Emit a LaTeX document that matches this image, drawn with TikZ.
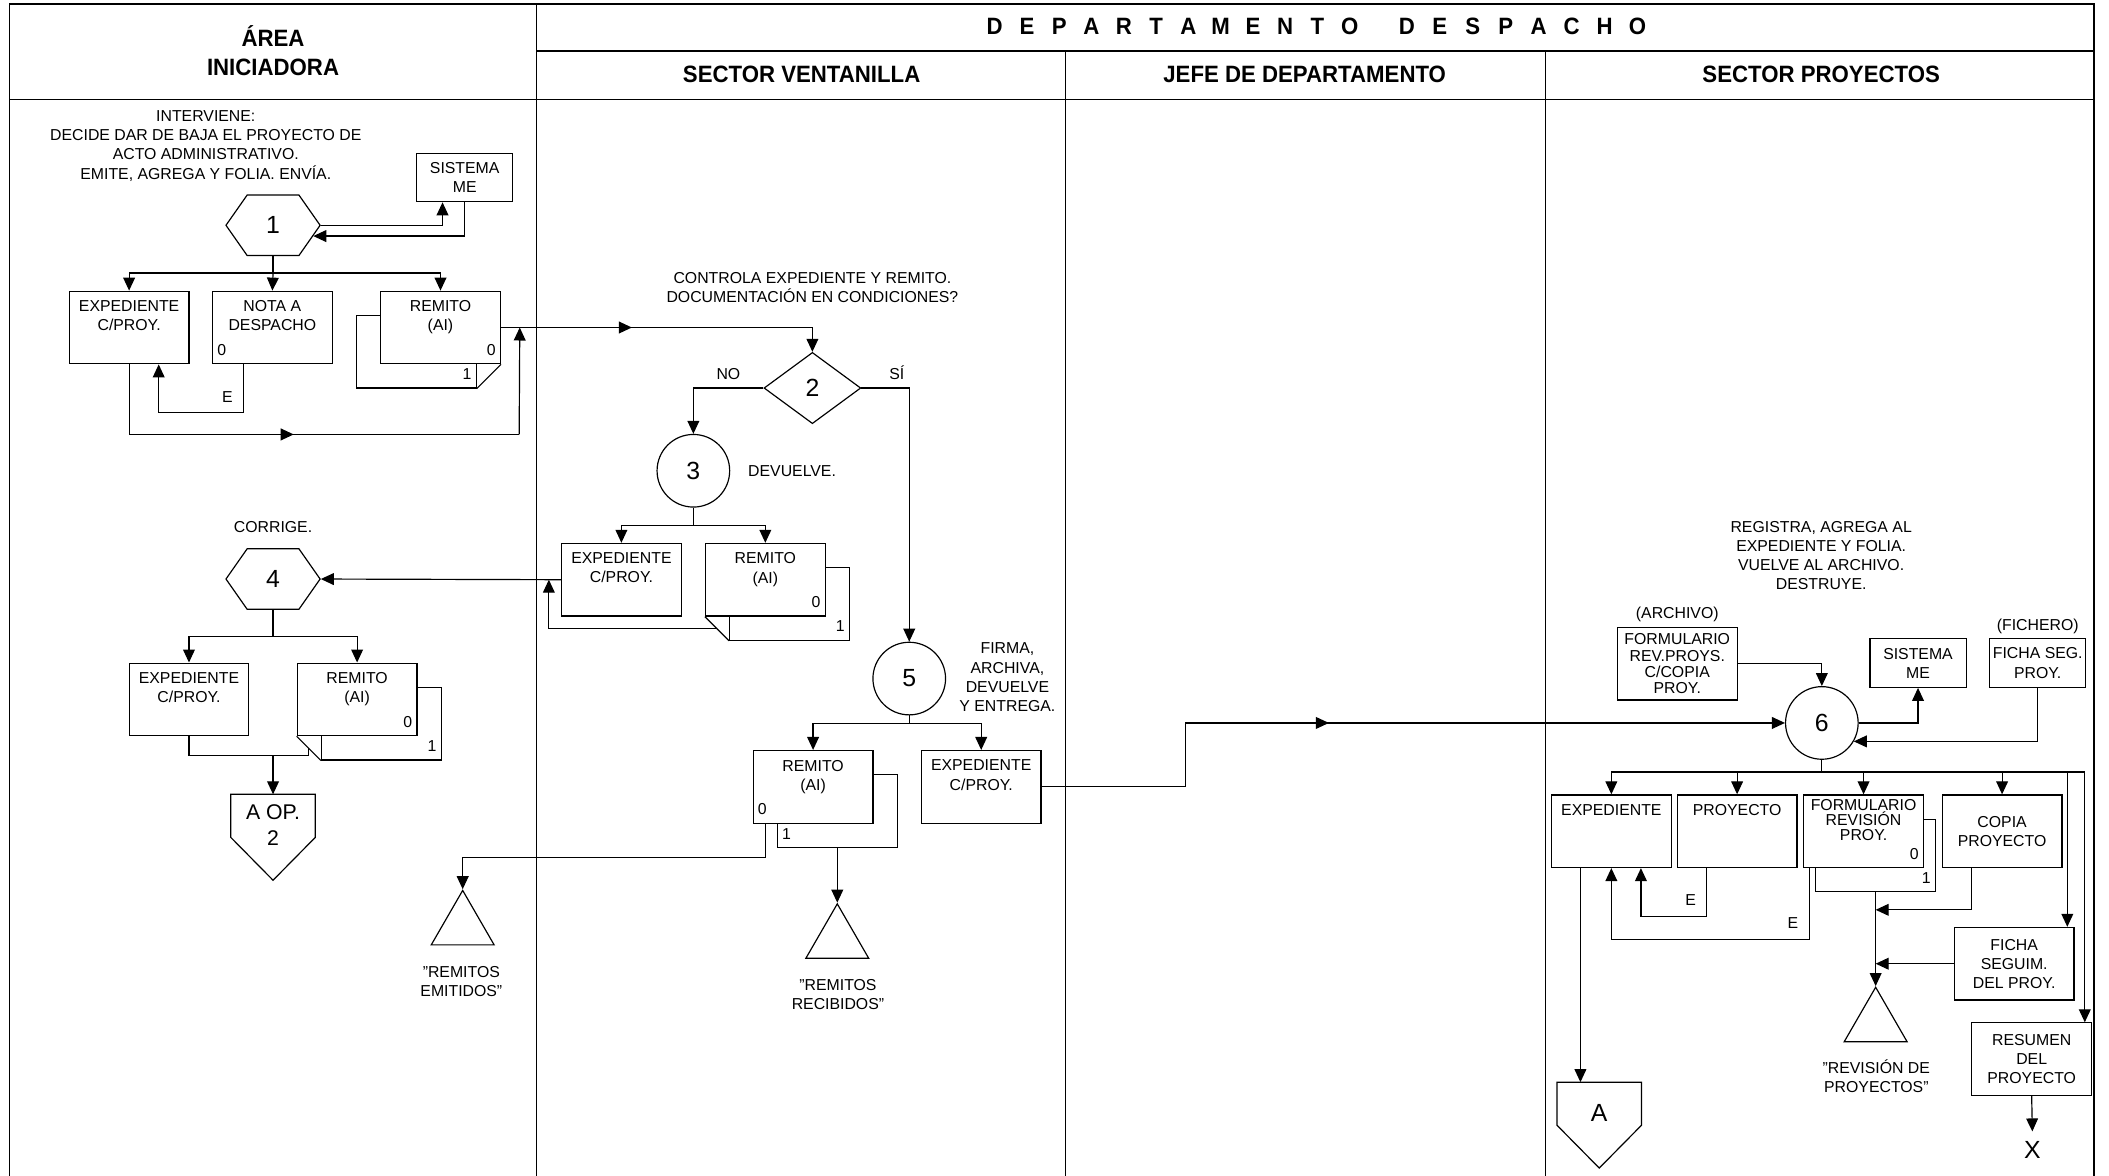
\documentclass[tikz,border=0pt]{standalone}
\usepackage{fontspec}
\setmainfont{Liberation Sans}
\newfontfamily\titfont[FakeStretch=0.94]{Liberation Sans}
\usetikzlibrary{arrows.meta,calc,shapes.geometric,shapes.symbols,decorations.markings}

\tikzset{
  caja/.style={draw, fill=white, minimum width=1.78cm, minimum height=1.08cm, inner sep=0pt, align=center},
  chica/.style={draw, fill=white, minimum width=1.43cm, minimum height=0.72cm, inner sep=0pt, align=center},
  tope/.style={anchor=north, align=center, inner sep=1pt, yshift=-3pt},
  nro/.style 2 args={label={[anchor=#1, inner sep=2pt, yshift=1.5pt]#1:#2}},
  num/.style={font=\fontsize{10.5}{12}\selectfont},
  hexa/.style={draw, signal, signal to=west and east, signal pointer angle=110,
    minimum width=1.4cm, minimum height=0.9cm, inner sep=0pt, num},
  conector/.style={minimum width=1.24cm, minimum height=1.26cm, inner sep=0pt},
  opera/.style={draw, circle, minimum size=1.08cm, inner sep=0pt, num},
  archivo/.style={draw, regular polygon, regular polygon sides=3, minimum size=1.08cm, inner sep=0pt},
  flecha/.style={-{Triangle[length=5.5pt,width=5pt]}},
  medio/.style={postaction={decorate}, decoration={markings,
    mark=at position #1 with {\arrow{Triangle[length=5.5pt,width=5pt]}}}},
  titulo/.style={font=\titfont\bfseries\fontsize{10}{12}\selectfont},
}

\begin{document}
\begin{tikzpicture}[x=0.02cm, y=-0.02cm, line width=0.5pt,
    font=\fontsize{6.7}{8.1}\selectfont]
\useasboundingbox (0,0) rectangle (1568,874);

% Marco y carriles
\draw[line width=0.7pt] (7,874) -- (7,3) -- (1557,3) -- (1557,874);
\draw[line width=0.7pt] (7,74) -- (1557,74);
\draw[line width=0.7pt] (399,38) -- (1557,38);
\draw (399,3) -- (399,874);
\draw (792,38) -- (792,874);
\draw (1149,38) -- (1149,874);

% Encabezados
\node[titulo] (tarea) at (203,26.5) {ÁREA};
\node[titulo] (tinic) at (203,50) {INICIADORA};
\foreach \l [count=\i from 0] in {D,E,P,A,R,T,A,M,E,N,T,O}
  \node[titulo] (dep\i) at (739.5+24*\i,19.5) {\l};
\foreach \l [count=\i from 0] in {D,E,S,P,A,C,H,O}
  \node[titulo] (des\i) at (1046+24.5*\i,19.5) {\l};
\node[titulo] (tvent) at (596,55.5) {SECTOR VENTANILLA};
\node[titulo] (tjefe) at (970,55.5) {JEFE DE DEPARTAMENTO};
\node[titulo] (tproy) at (1354,55.5) {SECTOR PROYECTOS};

% Area iniciadora
\node[align=center] (t1) at (153,108.5) {INTERVIENE:\\DECIDE DAR DE BAJA EL PROYECTO DE\\ACTO ADMINISTRATIVO.\\EMITE, AGREGA Y FOLIA. ENVÍA.};
\node[chica] (sis1) at (345.5,132) {SISTEMA\\ME};
\node[hexa] (hex1) at (203,167.5) {1};
\coordinate (r1) at (203,203);
\node[caja, label={[tope]north:EXPEDIENTE\\C/PROY.}] (exp1) at (96,243.5) {};
\node[caja, label={[tope]north:NOTA A\\DESPACHO}, nro={south west}{0}] (not1) at (202.5,243.5) {};
\node[caja, nro={south east}{1}] (rem1b) at (309.5,261.5) {};
\node[caja, label={[tope]north:REMITO\\(AI)}, nro={south east}{0}] (rem1) at (327.5,243.5) {};
\draw (rem1.south east) -- (rem1b.south east);

\node (t4) at (203,392) {CORRIGE.};
\node[hexa] (hex4) at (203,430.5) {4};
\coordinate (r4) at (203,473);
\node[caja, label={[tope]north:EXPEDIENTE\\C/PROY.}] (exp4) at (140.5,520) {};
\node[caja, nro={south east}{1}] (rem4b) at (283.5,538) {};
\node[caja, label={[tope]north:REMITO\\(AI)}, nro={south east}{0}] (rem4) at (265.5,520) {};
\draw (rem4.south west) -- (rem4b.south west);
\node[conector] (pen4) at (203,622.5) {};
\draw (pen4.north west) -- (pen4.north east) -- ($(pen4.north east)+(0,32)$) -- (pen4.south) -- ($(pen4.north west)+(0,32)$) -- cycle;
\node[align=center, font=\fontsize{9}{10.8}\selectfont] (pen4t) at ($(pen4.north)+(0,23)$) {A OP.\\2};

% Sector ventanilla
\node[align=center] (t2) at (604,214) {CONTROLA EXPEDIENTE Y REMITO.\\DOCUMENTACIÓN EN CONDICIONES?};
\node[draw, diamond, aspect=1.36, minimum width=1.44cm, minimum height=1.06cm, inner sep=0pt, num] (dia2) at (604,288.5) {2};
\node[opera] (op3) at (515.5,350) {3};
\node[anchor=west] (t3) at (550,350) {DEVUELVE.};
\coordinate (r3) at (515.5,391);
\node[caja, label={[tope]north:EXPEDIENTE\\C/PROY.}] (exp3) at (462,431) {};
\node[caja, nro={south east}{1}] (rem3b) at (587,449) {};
\node[caja, label={[tope]north:REMITO\\(AI)}, nro={south east}{0}] (rem3) at (569,431) {};
\draw (rem3.south west) -- (rem3b.south west);

\node[opera] (op5) at (676,504.5) {5};
\node[align=center] (t5) at (749,503.5) {FIRMA,\\ARCHIVA,\\DEVUELVE\\Y ENTREGA.};
\coordinate (r5) at (676,538);
\node[caja, nro={south west}{1}] (rem5b) at (622.5,603) {};
\node[caja, label={[tope]north:REMITO\\(AI)}, nro={south west}{0}] (rem5) at (604.5,585) {};
\node[caja, label={[tope]north:EXPEDIENTE\\C/PROY.}] (exp5) at (729.5,585) {};
\node[archivo] (arc1) at (344,689) {};
\node[align=center] (ta1) at (343,729.5) {"REMITOS\\EMITIDOS"};
\node[archivo] (arc2) at (622.5,699) {};
\node[align=center] (ta2) at (623,739.5) {"REMITOS\\RECIBIDOS"};

% Sector proyectos
\node[align=center] (t6) at (1354,413) {REGISTRA, AGREGA AL\\EXPEDIENTE Y FOLIA.\\VUELVE AL ARCHIVO.\\DESTRUYE.};
\node (tarch) at (1247,457) {(ARCHIVO)};
\node[caja, font=\fontsize{6.7}{6.9}\selectfont] (frm6) at (1247,493.5) {FORMULARIO\\REV.PROYS.\\C/COPIA\\PROY.};
\node[opera] (op6) at (1354.5,537.5) {6};
\node[chica] (sis6) at (1426,493) {SISTEMA\\ME};
\node (tfich) at (1515,466) {(FICHERO)};
\node[chica] (fic6) at (1515,493) {FICHA SEG.\\PROY.};
\coordinate (r6) at (1354.5,574);
\node[caja, label={[tope]north:EXPEDIENTE}] (exp6) at (1198,618) {};
\node[caja, label={[tope]north:PROYECTO}] (pro6) at (1291.5,618) {};
\node[caja, nro={south east}{1}] (frv6b) at (1394.5,636) {};
\node[caja, label={[tope, yshift=2pt, font=\fontsize{6.7}{6.2}\selectfont]north:FORMULARIO\\REVISIÓN\\PROY.}, nro={south east}{0}] (frv6) at (1385.5,618) {};
\node[caja] (cop6) at (1488.5,618) {COPIA\\PROYECTO};
\node[caja] (fsg6) at (1497.5,716.5) {FICHA\\SEGUIM.\\DEL PROY.};
\node[caja] (res6) at (1510.5,787.5) {RESUMEN\\DEL\\PROYECTO};
\node[num, inner sep=4pt] (x6) at (1511,855) {X};
\node[archivo] (arc3) at (1394.5,761) {};
\node[align=center] (ta3) at (1395,800) {"REVISIÓN DE\\PROYECTOS"};
\node[conector] (pena) at (1189,836.5) {};
\draw (pena.north west) -- (pena.north east) -- ($(pena.north east)+(0,32)$) -- (pena.south) -- ($(pena.north west)+(0,32)$) -- cycle;
\node[num] (penat) at ($(pena.north)+(0,23)$) {A};

% Conexiones area iniciadora
\draw[flecha] (hex1.east) -| ([xshift=-0.33cm]sis1.south);
\draw[flecha] (sis1.south) |- (hex1.-15);
\draw (hex1.south) -- (r1);
\draw[flecha] (r1) -| (exp1.north);
\draw[flecha] (r1) -- (not1.north);
\draw[flecha] (r1) -| (rem1.north);
\draw[flecha] ([xshift=-0.43cm]not1.south) -- ++(0,36) node[above left=1pt] (e1) {E} -| ([xshift=0.44cm]exp1.south);
\coordinate (j1) at ($(rem1.east)+(14,0)$);
\coordinate (b1) at (386,323);
\draw[medio=0.51] (exp1.south) |- (b1);
\draw[flecha] (b1) -- (j1);
\draw[flecha, medio=0.39] (rem1.east) -| (dia2.north);

\draw (hex4.south) -- (r4);
\draw[flecha] (r4) -| (exp4.north);
\draw[flecha] (r4) -| (rem4.north);
\coordinate (d4) at ($(rem4.south west)!0.5!(rem4b.south west)$);
\coordinate (j4) at (203,562);
\draw (exp4.south) |- (d4 |- j4) -- (d4);
\draw[flecha] (j4) -- (pen4.north);

% Conexiones sector ventanilla
\draw[flecha] (dia2.west) -| node[pos=0.25, above] (no2) {NO} (op3.north);
\draw[flecha] (dia2.east) -| node[pos=0.37, above] (si2) {SÍ} (op5.north);
\draw (op3.south) -- (r3);
\draw[flecha] (r3) -| (exp3.north);
\draw[flecha] (r3) -| (rem3.north);
\draw[flecha] (exp3.west) -- (hex4.east);
\coordinate (d3) at ($(rem3.south west)!0.5!(rem3b.south west)$);
\coordinate (k3) at ($(exp3.west)+(-9,0)$);
\draw[flecha] (d3) -| (k3);

\draw (op5.south) -- (r5);
\draw[flecha] (r5) -| (rem5.north);
\draw[flecha] (r5) -| (exp5.north);
\draw[flecha] ([xshift=-0.71cm]rem5.south) -- ++(0,25) -| (arc1.north);
\draw[flecha] (rem5b.south) -- (arc2.north);
\draw[flecha, medio=0.435] (exp5.east) -- ++(107,0) |- (op6.west);

% Conexiones sector proyectos
\draw[flecha] (frm6.east) -| (op6.north);
\draw[flecha] (op6.east) -| (sis6.south);
\draw[flecha] (fic6.south) |- (op6.-30);
\draw (op6.south) -- (r6);
\draw[flecha] (r6) -| (exp6.north);
\draw[flecha] (r6) -| (pro6.north);
\draw[flecha] (r6) -| (frv6.north);
\draw[flecha] (r6) -| (cop6.north);
\draw[flecha] (r6) -| ([xshift=0.79cm]fsg6.north);
\draw[flecha] (r6) -| ([xshift=0.79cm]res6.north);
\draw[flecha] ([xshift=-0.45cm]pro6.south) -- ++(0,36) node[above left=1pt] (e6a) {E} -| ([xshift=0.44cm]exp6.south);
\draw[flecha] ([xshift=-0.81cm]frv6.south) -- ++(0,53) node[above left=1pt] (e6b) {E} -| (exp6.south);
\coordinate (s6) at ([xshift=-0.46cm]exp6.south);
\draw[flecha] (s6) -- (s6 |- pena.north);
\draw[flecha] (frv6b.south) -- (arc3.north);
\coordinate (m6) at ($(frv6b.south)+(0,13)$);
\draw[flecha] ([xshift=-0.45cm]cop6.south) |- (m6);
\draw[flecha] (fsg6.west) -- (fsg6.west -| arc3.north);
\draw[flecha] (res6.south) -- (x6.north);
\end{tikzpicture}
\end{document}
